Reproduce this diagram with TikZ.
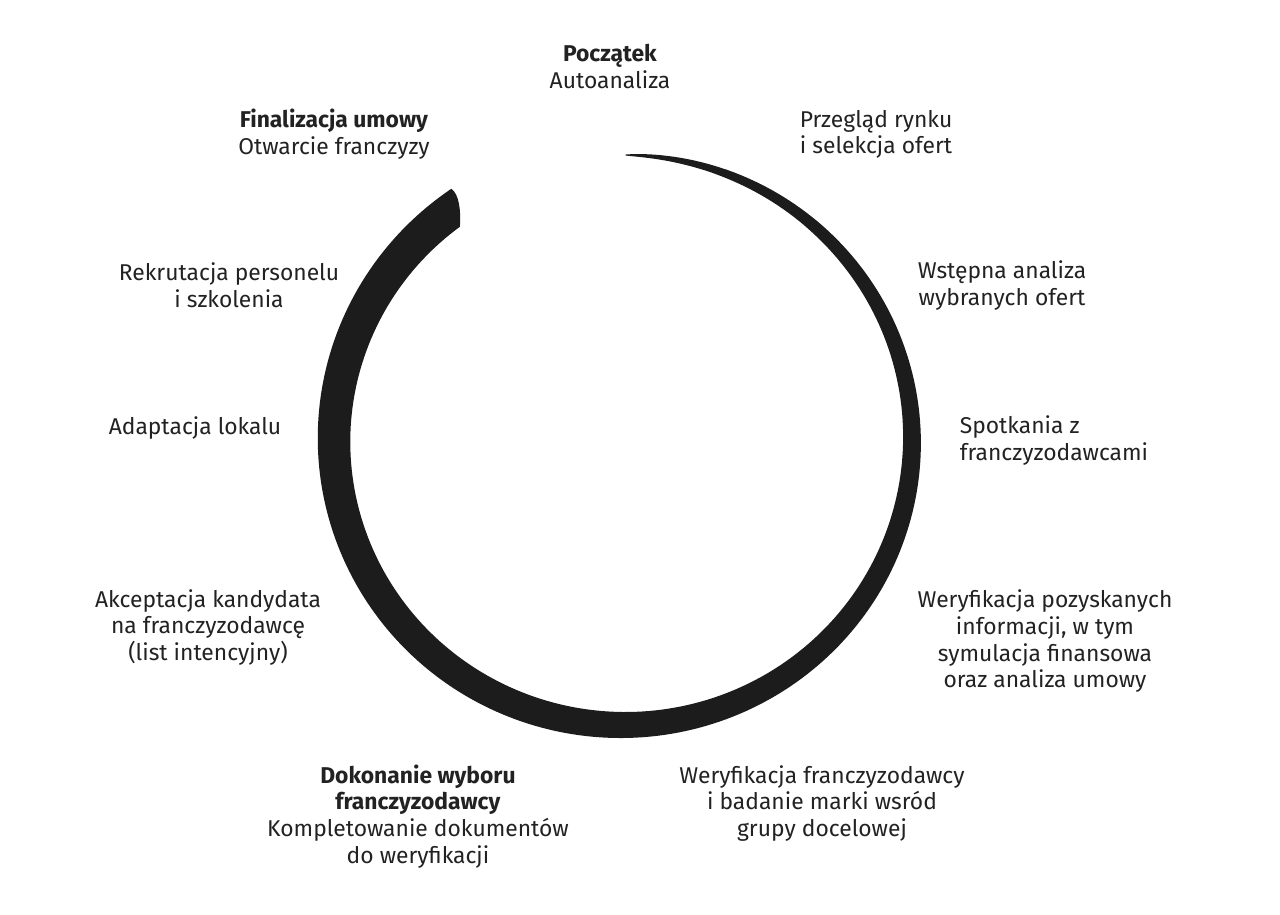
\documentclass[tikz,border=0pt]{standalone}
\usepackage{fontspec}
\setmainfont{Fira Sans}
\definecolor{txt}{HTML}{222222}
\definecolor{ink}{HTML}{1C1C1C}
\begin{document}
\begin{tikzpicture}[x=0.02cm,y=-0.02cm,
  lbl/.style={align=center, font=\fontsize{13}{15.2}\selectfont, text=txt, inner sep=0pt,
    execute at begin node=\strut, execute at end node=\strut},
  declare function={th(\s)=36*pow(\s/325,0.55);}]
\useasboundingbox[fill=white] (0,0) rectangle (1280,914);
% brush stroke
\coordinate (innerend) at ({623+(289-0.5*th(323))*cos(-233)}, {440-(285-0.5*th(323))*sin(-233)});
\fill[ink] plot[domain=0.5:326, samples=240, variable=\s]
    ({623+(289+0.5*th(\s))*cos(90-\s)}, {440-(285+0.5*th(\s))*sin(90-\s)})
  .. controls (459,194) and (461,210) .. (innerend)
  -- plot[domain=323:0.5, samples=240, variable=\s]
    ({623+(289-0.5*th(\s))*cos(90-\s)}, {440-(285-0.5*th(\s))*sin(90-\s)})
  -- cycle;
% labels
\node[lbl] (p0) at (610,70) {\textbf{Początek}\\Autoanaliza};
\node[lbl] (p1) at (876,136) {Przegląd rynku\\i selekcja ofert};
\node[lbl] (p2) at (1002,287) {Wstępna analiza\\wybranych ofert};
\node[lbl, align=left] (p3) at (1054,442) {Spotkania z\\franczyzodawcami};
\node[lbl] (p4) at (1045,643) {Weryfikacja pozyskanych\\informacji, w tym\\symulacja finansowa\\oraz analiza umowy};
\node[lbl] (p5) at (822,805) {Weryfikacja franczyzodawcy\\i badanie marki wsród\\grupy docelowej};
\node[lbl] (p6) at (418,818) {\textbf{Dokonanie wyboru}\\\textbf{franczyzodawcy}\\Kompletowanie dokumentów\\do weryfikacji};
\node[lbl] (p7) at (208,629) {Akceptacja kandydata\\na franczyzodawcę\\(list intencyjny)};
\node[lbl] (p8) at (195,429) {Adaptacja lokalu};
\node[lbl] (p9) at (229,289) {Rekrutacja personelu\\i szkolenia};
\node[lbl] (p10) at (334,136) {\textbf{Finalizacja umowy}\\Otwarcie franczyzy};
\end{tikzpicture}
\end{document}
